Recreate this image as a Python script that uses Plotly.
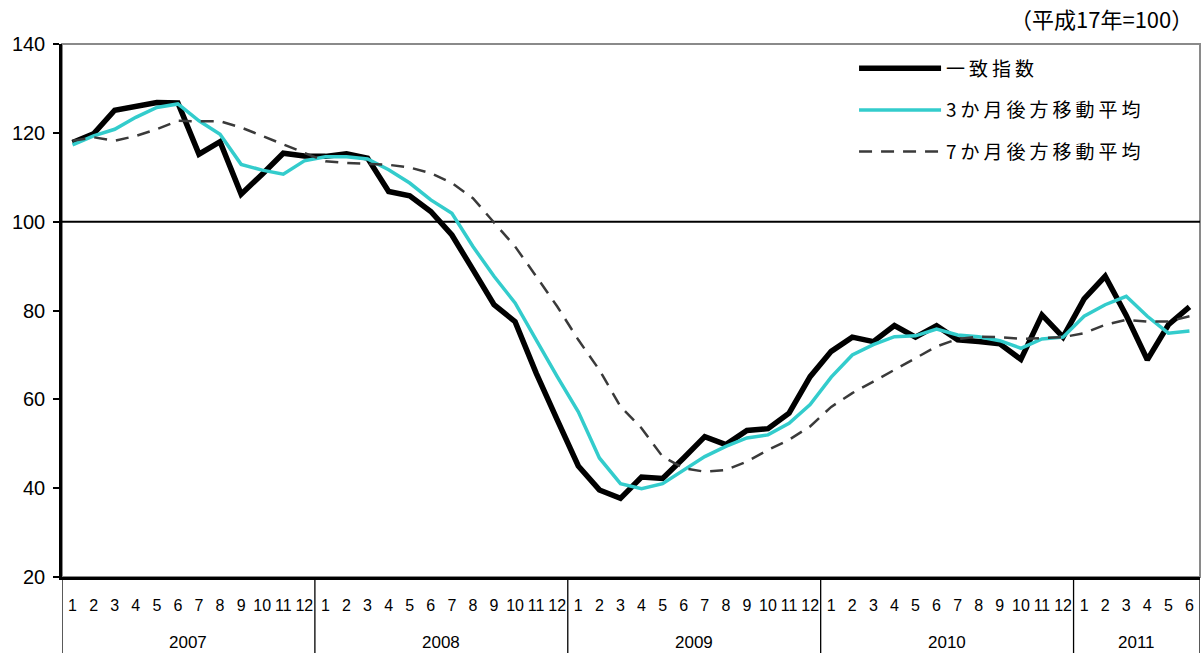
import plotly.graph_objects as go

# ---- data ----
years = ["2007", "2008", "2009", "2010", "2011"]
months_per_year = [12, 12, 12, 12, 6]
month_labels = [str(m) for n in months_per_year for m in range(1, n + 1)]

coincident = [117.8, 119.8, 125.1, 126.1, 126.8, 126.7, 115.2, 118.0, 106.2, 110.7, 115.4, 114.8,
              114.7, 115.3, 114.3, 106.8, 105.8, 102.3, 97.0, 89.2, 81.3, 77.5, 65.9, 55.4,
              45.0, 39.6, 37.7, 42.5, 42.2, 46.8, 51.6, 49.8, 53.0, 53.4, 56.9, 65.1,
              70.8, 74.0, 73.0, 76.6, 74.0, 76.6, 73.4, 73.0, 72.5, 69.0, 79.0, 74.0,
              82.6, 87.7, 78.9, 68.9, 76.8, 80.8]
ma3 = [117.3, 119.3, 120.8, 123.5, 125.7, 126.5, 122.7, 119.7, 112.9, 111.6, 110.7, 113.7,
       114.6, 114.6, 114.1, 111.7, 108.7, 104.9, 101.9, 94.4, 87.7, 81.7, 73.4, 65.1,
       57.2, 46.8, 41.0, 39.9, 41.0, 44.1, 47.1, 49.4, 51.3, 52.0, 54.6, 58.8,
       65.0, 70.0, 72.3, 74.1, 74.3, 75.8, 74.5, 74.1, 73.2, 71.5, 73.6, 74.0,
       78.7, 81.3, 83.2, 78.7, 74.9, 75.4]
ma7 = [118.2, 119.0, 118.2, 119.3, 120.8, 122.7, 122.6, 122.6, 121.2, 119.3, 117.4, 115.6,
       113.6, 113.2, 113.0, 112.8, 112.2, 110.9, 108.7, 105.3, 99.8, 94.4, 87.7, 80.9,
       73.4, 66.6, 58.4, 53.5, 47.1, 44.5, 43.7, 44.1, 46.0, 48.6, 50.9, 53.9,
       58.3, 61.4, 64.0, 66.6, 69.3, 71.9, 73.6, 74.1, 74.0, 73.6, 73.8, 74.0,
       74.9, 76.8, 77.9, 77.5, 77.5, 78.7]

series_names = ["一致指数", "3か月後方移動平均", "7か月後方移動平均"]
y_ticks = [20, 40, 60, 80, 100, 120, 140]
unit_label = "（平成17年=100）"

x = list(range(1, len(month_labels) + 1))

FONT_NUM = "Liberation Sans, Arial"
FONT_CJK = "Noto Sans CJK JP"

fig = go.Figure()


def lg(t):
    return '<span style="letter-spacing:4px">' + t + '</span>'


fig.add_trace(go.Scatter(x=x, y=coincident, mode="lines", name=lg(series_names[0]),
                         legendgroup="a",
                         line=dict(color="#000000", width=5.5)))
fig.add_trace(go.Scatter(x=x, y=ma3, mode="lines", name=lg(series_names[1]),
                         legendgroup="b",
                         line=dict(color="#33CCCC", width=3.5)))
fig.add_trace(go.Scatter(x=x, y=ma7, mode="lines", name=lg(series_names[2]),
                         legendgroup="c",
                         line=dict(color="#3a3a3a", width=2.5, dash="13px,9px")))

shapes = []
# plot frame (gray top/right)
shapes.append(dict(type="rect", xref="paper", yref="paper", x0=0, x1=1, y0=0, y1=1,
                   line=dict(color="#8a8a8a", width=2), layer="below"))
# reference line at 100
shapes.append(dict(type="line", xref="paper", yref="y", x0=0, x1=1, y0=100, y1=100,
                   line=dict(color="#000000", width=2), layer="below"))

annotations = []
start = 0.5
bounds = [start]
for yr, n in zip(years, months_per_year):
    end = start + n
    annotations.append(dict(x=(start + end) / 2, y=-0.122, xref="x", yref="paper",
                            text=yr, showarrow=False, yanchor="middle",
                            font=dict(family=FONT_NUM, size=17, color="#000")))
    bounds.append(end)
    start = end
for b in bounds:
    shapes.append(dict(type="line", xref="x", yref="paper", x0=b, x1=b, y0=0, y1=-0.16,
                       line=dict(color="#000000", width=1.3)))

annotations.append(dict(x=0.996, y=1.048, xref="paper", yref="paper", text=unit_label,
                        showarrow=False, xanchor="right", yanchor="middle",
                        font=dict(family=FONT_CJK, size=22, color="#000")))

fig.update_layout(
    width=1203, height=653,
    margin=dict(l=62, r=3, t=44, b=76),
    paper_bgcolor="white", plot_bgcolor="white",
    showlegend=True,
    legend=dict(x=0.696, y=0.99, xanchor="left", yanchor="top",
                bgcolor="rgba(0,0,0,0)", borderwidth=0,
                font=dict(family=FONT_CJK, size=19, color="#000"),
                itemwidth=82, tracegroupgap=14, itemclick=False),
    shapes=shapes, annotations=annotations,
)
fig.update_xaxes(range=[0.5, len(month_labels) + 0.5], tickmode="array", tickvals=x,
                 ticktext=month_labels, showgrid=False, zeroline=False, showline=True,
                 linecolor="#000", linewidth=2.5, ticks="", ticklabelstandoff=12,
                 tickangle=0, automargin=False,
                 tickfont=dict(family=FONT_NUM, size=16, color="#000"))
fig.update_yaxes(range=[20, 140], tickmode="array", tickvals=y_ticks, showgrid=False,
                 zeroline=False, showline=True, linecolor="#000", linewidth=2.5,
                 ticks="outside", ticklen=6, tickwidth=1.5, tickcolor="#000",
                 ticklabelstandoff=4, automargin=False,
                 tickfont=dict(family=FONT_NUM, size=20, color="#000"))

fig.write_html("out.html", config={"displayModeBar": False},
               post_script="document.body.style.margin='0';document.body.style.overflow='hidden';")
